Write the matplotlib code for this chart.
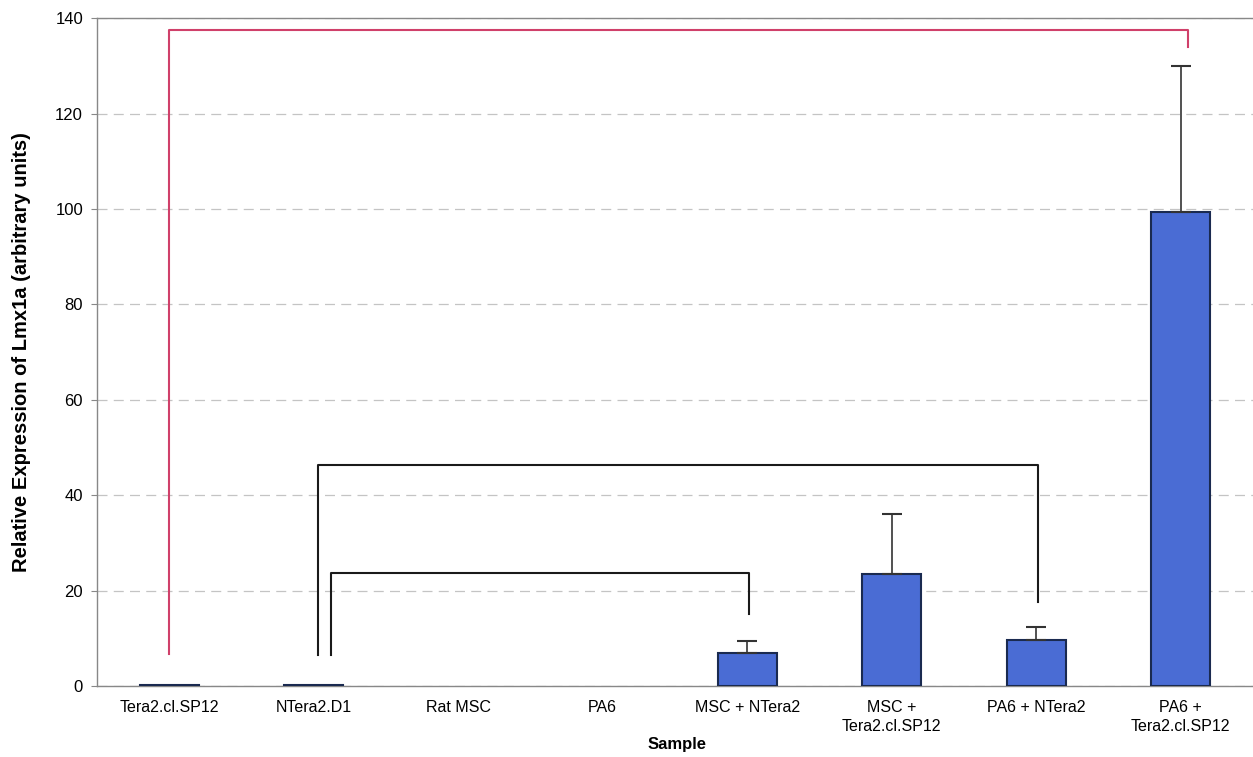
import matplotlib
matplotlib.use("Agg")
import matplotlib.pyplot as plt
import numpy as np

plt.rcParams['font.family'] = ['Liberation Sans', 'DejaVu Sans']

categories = ["Tera2.cl.SP12", "NTera2.D1", "Rat MSC", "PA6", "MSC + NTera2",
              "MSC +\nTera2.cl.SP12", "PA6 + NTera2", "PA6 +\nTera2.cl.SP12"]
values = [0.3, 0.2, 0.0, 0.0, 6.9, 23.5, 9.6, 99.4]
errors = [0.3, 0.2, 0.0, 0.0, 2.5, 12.5, 2.8, 30.6]
y_ticks = [0, 20, 40, 60, 80, 100, 120, 140]

# brackets: (x_left, y_left_end, x_right, y_right_end, y_top, color)
brackets = [
    (0.0, 6.7, 7.05, 134.0, 137.5, "#d0406a"),
    (1.03, 6.5, 6.01, 17.6, 46.3, "#1a1a1a"),
    (1.12, 6.5, 4.01, 15.0, 23.7, "#1a1a1a"),
]

fig = plt.figure(figsize=(12.53, 7.57), dpi=100)
ax = fig.add_axes([0.0774, 0.0938, 0.9226, 0.8822])

x = np.arange(len(categories))
bar_colors = ["#1e2a4a", "#1e2a4a"] + ["#4a6cd4"] * 6
line_widths = [1.5 if v > 0 else 0.0 for v in values]
ax.bar(x, values, width=0.41, color=bar_colors, edgecolor="#1a2a50",
       linewidth=line_widths, zorder=3)
ax.errorbar(x[4:], values[4:], yerr=[np.zeros(4), errors[4:]], fmt="none",
            ecolor="#333333", elinewidth=1.2, capsize=7, capthick=1.5, zorder=4)

for xl, yl, xr, yr, yt, c in brackets:
    ax.plot([xl, xl, xr, xr], [yl, yt, yt, yr], color=c, linewidth=1.5, zorder=5)

ax.set_xlim(-0.5, 7.5)
ax.set_ylim(0, 140)
ax.set_yticks(y_ticks)
ax.set_yticklabels([str(t) for t in y_ticks], fontsize=12)
ax.set_xticks(x)
ax.set_xticklabels(categories, fontsize=11.5, linespacing=1.35)
ax.tick_params(axis="x", length=0, pad=10)
ax.tick_params(axis="y", length=4, color="#888888", pad=6)
ax.yaxis.grid(True, linestyle=(0, (8, 5)), color="#c4c4c4", linewidth=0.9, zorder=0)
ax.set_axisbelow(True)

for s in ["left", "top", "bottom"]:
    ax.spines[s].set_color("#888888")
    ax.spines[s].set_linewidth(1.0)
ax.spines["right"].set_visible(False)

ax.set_ylabel("Relative Expression of Lmx1a (arbitrary units)", fontsize=14.5,
              fontweight="bold")
ax.yaxis.set_label_coords(-0.057, 0.5)
fig.text(0.540, 1 - 745 / 757, "Sample", fontsize=12, fontweight="bold",
         ha="center", va="center")

fig.savefig("out.png", dpi=100)
